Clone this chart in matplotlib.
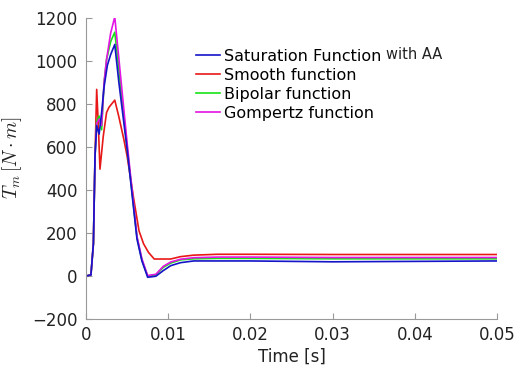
import numpy as np
import matplotlib
matplotlib.use("Agg")
import matplotlib.pyplot as plt

plt.rcParams['font.family'] = ['DejaVu Sans']
plt.rcParams['mathtext.fontset'] = 'cm'

t_sat = [0, 0.0006, 0.0009, 0.0011, 0.0013, 0.0016, 0.0019, 0.0022, 0.0026, 0.0030, 0.0035, 0.0040, 0.0050, 0.0062, 0.0068, 0.0075, 0.0085, 0.0094, 0.0103, 0.0115, 0.0131, 0.016, 0.02, 0.03, 0.04, 0.05]
v_sat = [0, 5, 150, 560, 700, 660, 760, 880, 980, 1030, 1077, 900, 590, 172, 70, -6, -1, 25, 48, 62, 70, 70, 70, 66, 68, 70]

t_smo = [0, 0.0006, 0.0009, 0.0011, 0.0013, 0.0015, 0.0017, 0.0021, 0.0025, 0.0028, 0.0035, 0.0040, 0.0046, 0.0050, 0.0058, 0.00645, 0.0070, 0.0076, 0.0083, 0.0103, 0.0115, 0.0131, 0.016, 0.02, 0.03, 0.04, 0.05]
v_smo = [0, 5, 150, 560, 868, 700, 497, 650, 760, 785, 818, 740, 636, 558, 360, 210, 150, 110, 79, 79, 90, 97, 101, 101, 100, 100, 100]

t_bip = [0, 0.0006, 0.0009, 0.0011, 0.0013, 0.0016, 0.0019, 0.0022, 0.0025, 0.0030, 0.0035, 0.0040, 0.0050, 0.0062, 0.0068, 0.0075, 0.0085, 0.0094, 0.0103, 0.0115, 0.0131, 0.016, 0.02, 0.03, 0.04, 0.05]
v_bip = [0, 5, 150, 560, 720, 744, 680, 900, 1007, 1090, 1134, 960, 600, 180, 75, 0, 5, 40, 60, 75, 80, 82, 82, 80, 80, 80]

t_gom = [0, 0.0006, 0.0009, 0.0011, 0.0013, 0.0016, 0.0019, 0.0022, 0.0025, 0.0030, 0.0035, 0.0040, 0.0050, 0.0062, 0.0068, 0.0075, 0.0085, 0.0094, 0.0103, 0.0115, 0.0131, 0.016, 0.02, 0.03, 0.04, 0.05]
v_gom = [0, 5, 150, 560, 710, 730, 700, 900, 1007, 1130, 1205, 1010, 620, 185, 80, 2, 8, 45, 65, 78, 85, 88, 88, 86, 86, 86]

labels = ["Saturation Function", "Smooth function", "Bipolar function", "Gompertz function"]
colors = ["#1414c8", "#e81818", "#14e414", "#e414e4"]

xticks = [0, 0.01, 0.02, 0.03, 0.04, 0.05]
xtick_labels = ["0", "0.01", "0.02", "0.03", "0.04", "0.05"]
yticks = [-200, 0, 200, 400, 600, 800, 1000, 1200]

fig = plt.figure(figsize=(5.2, 3.71), dpi=100)
ax = fig.add_axes([86/520, 1 - 319/371, (497-86)/520, (319-18)/371])

series = [(t_sat, v_sat), (t_smo, v_smo), (t_bip, v_bip), (t_gom, v_gom)]
order = [1, 2, 3, 0]
handles = {}
for i in order:
    t, v = series[i]
    h, = ax.plot(t, v, color=colors[i], lw=1.2, label=labels[i])
    handles[i] = h

ax.set_xlim(0, 0.05)
ax.set_ylim(-200, 1200)
ax.set_xticks(xticks)
ax.set_xticklabels(xtick_labels)
ax.set_yticks(yticks)
ax.tick_params(direction='in', length=4, colors='#999999', labelcolor='#222222', labelsize=12)
ax.tick_params(axis='y', pad=6)
ax.tick_params(axis='x', pad=5)
for s in ['top', 'right']:
    ax.spines[s].set_visible(False)
for s in ['left', 'bottom']:
    ax.spines[s].set_color('#999999')

ax.set_xlabel("Time [s]", fontsize=12, color='#222222', labelpad=3)
ax.set_ylabel(r"$T_m\,[N \cdot m]$", fontsize=14, color='#222222')
ax.yaxis.set_label_coords(-0.152, 0.535)

leg = ax.legend([handles[i] for i in range(4)], labels, loc='upper left',
                bbox_to_anchor=(0.252, 0.918), frameon=False, fontsize=11.5,
                handlelength=1.5, handletextpad=0.25, labelspacing=0.25, borderaxespad=0)

fig.canvas.draw()
bb = leg.get_texts()[0].get_window_extent()
fx, fy = fig.transFigure.inverted().transform((bb.x1 + 5, bb.y0 + 2))
fig.text(fx, fy, "with AA", fontsize=10.5, color='#222222', va='bottom', ha='left')

fig.savefig("out.png", dpi=100)
